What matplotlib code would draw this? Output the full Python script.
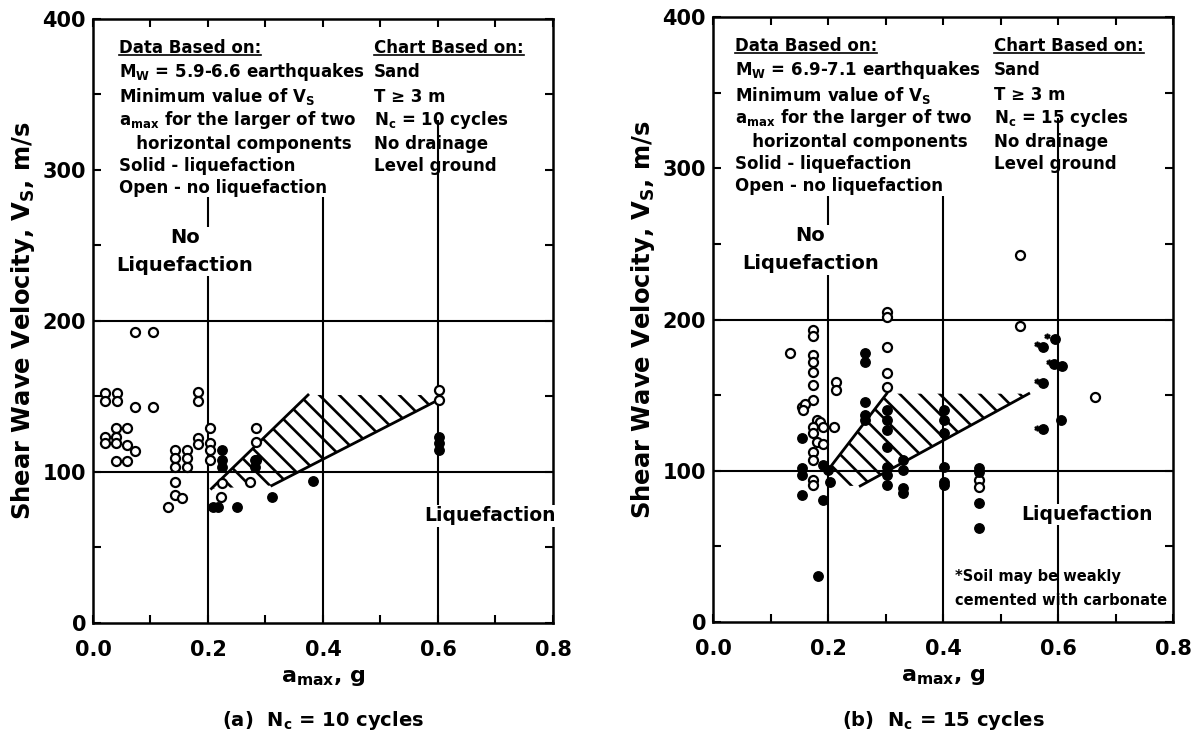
import matplotlib
matplotlib.use("Agg")
import numpy as np
import matplotlib.pyplot as plt
from matplotlib.lines import Line2D
from matplotlib.patches import Polygon
from matplotlib.collections import LineCollection

plt.rcParams['font.family'] = ['DejaVu Sans']
plt.rcParams['font.weight'] = 'bold'
plt.rcParams['axes.labelweight'] = 'bold'
plt.rcParams['mathtext.fontset'] = 'custom'
plt.rcParams['mathtext.rm'] = 'DejaVu Sans:bold'
plt.rcParams['mathtext.it'] = 'DejaVu Sans:bold'
plt.rcParams['mathtext.bf'] = 'DejaVu Sans:bold'
plt.rcParams['mathtext.default'] = 'rm'

# ---- panel (a): Nc = 10 cycles ----
a_open_a = [0.073, 0.104, 0.021, 0.041, 0.021, 0.041, 0.073, 0.104, 0.040, 0.059,
            0.021, 0.040, 0.021, 0.040, 0.059, 0.073, 0.040, 0.059,
            0.143, 0.163, 0.143, 0.163, 0.143, 0.163, 0.143, 0.131, 0.143, 0.154,
            0.183, 0.183, 0.183, 0.183, 0.203, 0.203, 0.203, 0.203,
            0.224, 0.222, 0.273, 0.283, 0.283, 0.283, 0.602, 0.602]
vs_open_a = [193, 193, 152.5, 152.5, 147, 147, 143, 143, 129, 129,
             123.4, 123.4, 119, 119, 118, 114, 107, 107,
             114.6, 114.6, 109, 109, 103.5, 103.5, 93.6, 77, 84.8, 83,
             153, 147, 122.7, 118.5, 129, 119.4, 114.6, 108,
             93, 83.6, 93.6, 129, 120, 108, 154, 147.7]
a_solid_a = [0.224, 0.224, 0.224, 0.209, 0.218, 0.251, 0.312, 0.382, 0.282, 0.282,
             0.602, 0.602, 0.602]
vs_solid_a = [114.6, 108, 103, 77, 77, 77, 83.6, 94, 108, 103.5,
              123.4, 119.4, 114.6]
band_a = [(0.206, 89), (0.374, 151), (0.585, 151), (0.602, 148), (0.311, 91)]
upper_edge_a = ([0.206, 0.374], [89, 151])
lower_edge_a = ([0.311, 0.602], [91, 148])

# ---- panel (b): Nc = 15 cycles ----
a_open_b = [0.134, 0.174, 0.174, 0.174, 0.174, 0.174, 0.174, 0.174,
            0.154, 0.160, 0.157, 0.180, 0.186, 0.174, 0.191, 0.211,
            0.174, 0.180, 0.191, 0.174, 0.174, 0.174, 0.174, 0.214, 0.214,
            0.303, 0.303, 0.302, 0.302, 0.302, 0.533, 0.533, 0.664, 0.462, 0.462]
vs_open_b = [177.6, 193, 189, 176.5, 172, 165.5, 157, 147,
             142, 144, 140, 133.5, 132, 129, 129, 129,
             125, 119, 118, 112.6, 107, 94, 90.6, 159, 153.4,
             205, 202, 182, 164.5, 155.6, 243, 196, 149, 94, 89.5]
a_solid_b = [0.154, 0.154, 0.154, 0.154, 0.192, 0.200, 0.203, 0.192, 0.183,
             0.264, 0.264, 0.264, 0.264, 0.264,
             0.302, 0.302, 0.302, 0.302, 0.302, 0.302, 0.302,
             0.331, 0.331, 0.331, 0.331,
             0.402, 0.402, 0.402, 0.402, 0.402, 0.402,
             0.462, 0.462, 0.462, 0.462,
             0.574, 0.594, 0.593, 0.606, 0.574, 0.574, 0.605]
vs_solid_b = [121.4, 101.6, 97, 84, 103.8, 100.5, 92.8, 80.7, 30.4,
              177.6, 172, 145.6, 137, 133.5,
              140, 133.5, 127, 116, 102.7, 97, 90.6,
              107, 100.5, 88.4, 85,
              140, 133.5, 125, 102.7, 92.8, 90.6,
              101.6, 99.4, 78.5, 62,
              182, 187, 170.6, 169, 158, 127.4, 133.5]
a_star_b = [0.563, 0.581, 0.584, 0.563, 0.563]
vs_star_b = [184, 189, 172, 159.5, 128.5]
band_b = [(0.203, 102), (0.302, 151), (0.549, 151), (0.256, 90), (0.235, 90)]
upper_edge_b = ([0.203, 0.302], [102, 151])
lower_edge_b = ([0.256, 0.549], [90, 151])

left_lines_a = ["Data Based on:", "M$_{W}$ = 5.9-6.6 earthquakes", "Minimum value of V$_{S}$",
                "a$_{max}$ for the larger of two", "   horizontal components",
                "Solid - liquefaction", "Open - no liquefaction"]
left_lines_b = ["Data Based on:", "M$_{W}$ = 6.9-7.1 earthquakes", "Minimum value of V$_{S}$",
                "a$_{max}$ for the larger of two", "   horizontal components",
                "Solid - liquefaction", "Open - no liquefaction"]
right_lines_a = ["Chart Based on:", "Sand", "T ≥ 3 m", "N$_{c}$ = 10 cycles", "No drainage", "Level ground"]
right_lines_b = ["Chart Based on:", "Sand", "T ≥ 3 m", "N$_{c}$ = 15 cycles", "No drainage", "Level ground"]
row_y = [0.952, 0.912, 0.871, 0.833, 0.793, 0.757, 0.720]

fig = plt.figure(figsize=(11.98, 7.42), dpi=100)
ax1 = fig.add_axes([0.0776, 0.1604, 0.384, 0.814])
ax2 = fig.add_axes([0.5952, 0.1617, 0.384, 0.8153])

underlined = []


def hatch_band(ax, band):
    # diagonal strokes (45 deg on screen, ~20 px apart) clipped to the band
    poly = Polygon(band, closed=True, facecolor='none', edgecolor='none')
    ax.add_patch(poly)
    bb = ax.get_window_extent()
    dx = 0.8 / bb.width
    dy = 400 / bb.height
    step = 20 * dx
    segs = [[(x0, 180), (x0 + 140 * dx, 180 - 140 * dy)]
            for x0 in np.arange(-0.1, 0.8, step)]
    lc = LineCollection(segs, colors='black', linewidths=1.9, zorder=2)
    ax.add_collection(lc)
    lc.set_clip_path(poly)


def setup(ax, a_open, vs_open, a_solid, vs_solid, band, up, lo, left_lines, right_lines,
          title, nl_x, liq_x, text_x):
    ax.set_xlim(0, 0.8)
    ax.set_ylim(0, 400)
    ax.set_xticks([0.0, 0.2, 0.4, 0.6, 0.8])
    ax.set_xticks([0.1, 0.3, 0.5, 0.7], minor=True)
    ax.set_yticks([0, 100, 200, 300, 400])
    ax.set_yticks([50, 150, 250, 350], minor=True)
    ax.tick_params(which='both', direction='in', top=True, right=True,
                   width=1.5, length=6, labelsize=15)
    ax.tick_params(axis='x', pad=12)
    ax.tick_params(axis='y', pad=5)
    for s in ax.spines.values():
        s.set_linewidth(1.8)

    # reference lines
    ax.axhline(100, color='black', lw=1.5, zorder=1)
    ax.axhline(200, color='black', lw=1.5, zorder=1)
    ax.vlines([0.2, 0.4], 0, 282, color='black', lw=1.5, zorder=1)
    ax.vlines([0.6], 0, 333, color='black', lw=1.5, zorder=1)

    hatch_band(ax, band)
    ax.plot(up[0], up[1], color='black', lw=2, zorder=3)
    ax.plot(lo[0], lo[1], color='black', lw=2, zorder=3)

    ax.plot(a_open, vs_open, 'o', ms=6.5, mfc='white', mec='black', mew=1.6, ls='none', zorder=4)
    ax.plot(a_solid, vs_solid, 'o', ms=6.8, mfc='black', mec='black', ls='none', zorder=4)

    ax.set_xlabel("a$_{max}$, g", fontsize=16)
    ax.xaxis.set_label_coords(0.5, -0.074)
    ax.set_ylabel("Shear Wave Velocity, V$_{S}$, m/s", fontsize=17.5)
    ax.yaxis.set_label_coords(-0.122, 0.5)
    ax.text(0.5, -0.162, title, transform=ax.transAxes, ha='center', va='center', fontsize=14)

    for i, s in enumerate(left_lines):
        t = ax.text(text_x, row_y[i], s, transform=ax.transAxes, ha='left', va='center',
                    fontsize=12, zorder=5)
        if i == 0:
            underlined.append(t)
    for i, s in enumerate(right_lines):
        t = ax.text(0.611, row_y[i], s, transform=ax.transAxes, ha='left', va='center',
                    fontsize=12, zorder=5)
        if i == 0:
            underlined.append(t)

    ax.text(nl_x, 246, "No\nLiquefaction", ha='center', va='center', fontsize=14,
            linespacing=1.6, zorder=5,
            bbox=dict(facecolor='white', edgecolor='none', pad=1))
    ax.text(liq_x, 71, "Liquefaction", ha='center', va='center', fontsize=13.5, zorder=5,
            bbox=dict(facecolor='white', edgecolor='none', pad=1))


setup(ax1, a_open_a, vs_open_a, a_solid_a, vs_solid_a, band_a, upper_edge_a, lower_edge_a,
      left_lines_a, right_lines_a, "(a)  N$_{c}$ = 10 cycles", 0.16, 0.69, 0.057)
setup(ax2, a_open_b, vs_open_b, a_solid_b, vs_solid_b, band_b, upper_edge_b, lower_edge_b,
      left_lines_b, right_lines_b, "(b)  N$_{c}$ = 15 cycles", 0.169, 0.65, 0.048)

ax2.plot(a_star_b, vs_star_b, ls='none', marker='$*$', ms=3.5, color='black', zorder=4)
ax2.text(0.42, 30, "*Soil may be weakly", fontsize=10.5, ha='left', va='center')
ax2.text(0.42, 14, "cemented with carbonate", fontsize=10.5, ha='left', va='center')

# underline the column headers
fig.canvas.draw()
inv = fig.transFigure.inverted()
for t in underlined:
    bb = t.get_window_extent()
    (x0, y0), (x1, _) = inv.transform([(bb.x0, bb.y0 + 2), (bb.x1, bb.y0 + 2)])
    fig.add_artist(Line2D([x0, x1], [y0, y0], color='black', lw=1.2, transform=fig.transFigure))

fig.savefig("out.png", dpi=100)
